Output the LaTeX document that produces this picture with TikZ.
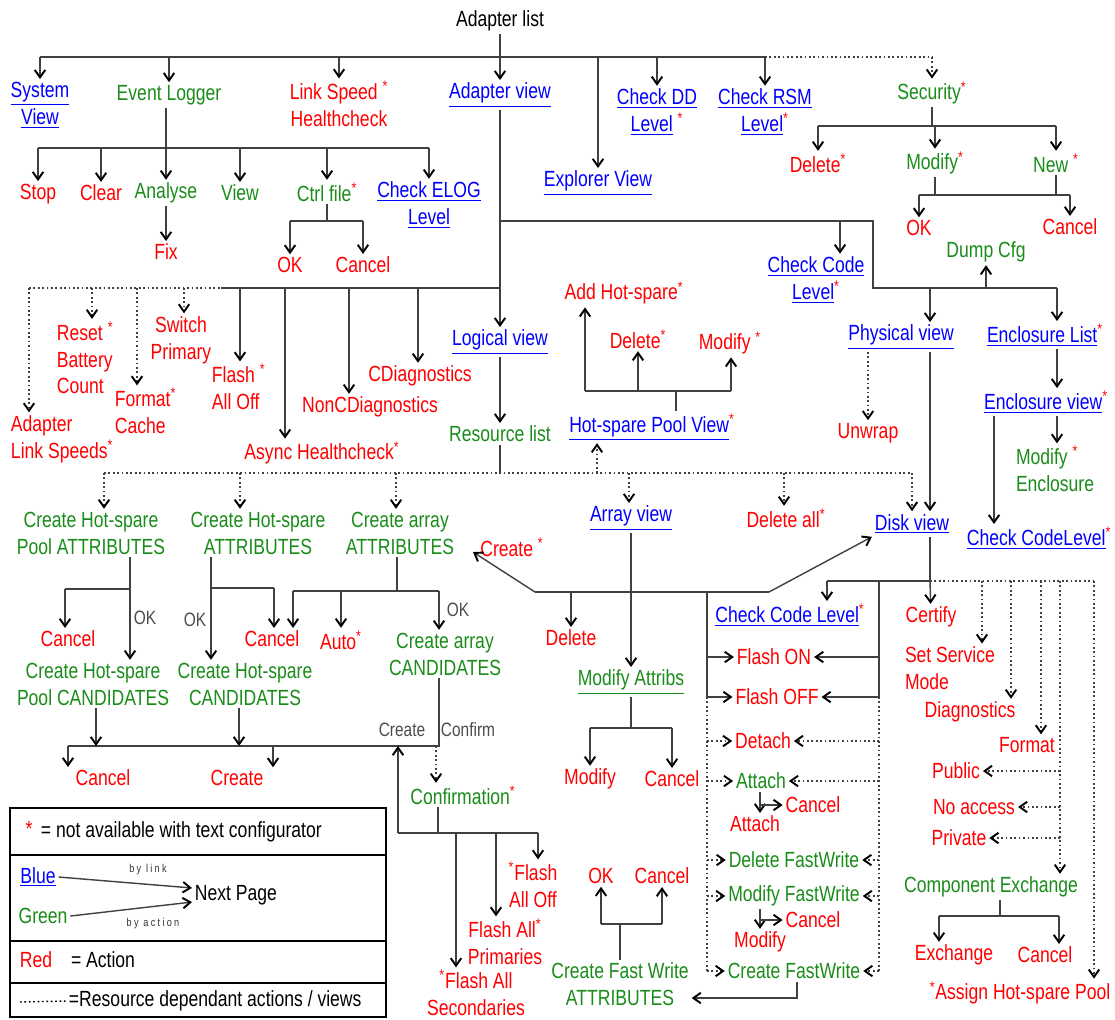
\documentclass[tikz,border=0pt]{standalone}
\usepackage{fontspec}
\setmainfont{Liberation Sans}[FakeStretch=0.8]
\usetikzlibrary{positioning,arrows.meta,calc}
\definecolor{colg}{rgb}{0.1,0.55,0.1}
\definecolor{colr}{rgb}{1.0,0.0,0.0}
\definecolor{colb}{rgb}{0.0,0.0,1.0}
\newcommand\dfont{\fontsize{12.5}{15.3}\selectfont}
\newcommand\lk[1]{\underline{#1}}
\newcommand\rst{\textsuperscript{\textcolor{colr}{*}}}
\tikzset{
  base/.style={inner sep=1.5pt, font=\dfont, align=center},
  rd/.style={base, text=colr},
  gr/.style={base, text=colg},
  bl/.style={base, text=colb},
  bk/.style={base, text=black},
  lab/.style={inner sep=1pt, font=\fontsize{11}{12}\selectfont, text=black!70},
  tny/.style={inner sep=1pt, font=\fontsize{6.5}{7}\selectfont\addfontfeature{LetterSpace=20}, text=black!80},
  ln/.style={draw=black!75, line width=0.8pt},
  ar/.style={ln, -{Straight Barb[length=1.5mm,width=2.1mm,line width=1.1pt,color=black]}},
  dt/.style={ln, dash pattern=on 1pt off 1.5pt},
  dar/.style={ar, dash pattern=on 1pt off 1.5pt},
}

\begin{document}
\begin{tikzpicture}[x=0.02cm, y=-0.02cm]
  \useasboundingbox (0,0) rectangle (1115,1019);

  % top row
  \node[bk] (alist) at (500,21) {Adapter list};
  \node[bl] (sysv) at (40,105) {\lk{System}\\\lk{View}};
  \node[gr] (elog) at (169,95) {Event Logger};
  \node[rd] (lspd) at (339,104) {Link Speed \rst\\Healthcheck};
  \node[bl] (aview) at (500,95) {\lk{Adapter view}};
  \node[bl] (expl) at (598,183) {\lk{Explorer View}};
  \node[bl] (chkdd) at (657,112) {\lk{Check DD}\\\lk{Level} \rst};
  \node[bl] (chkrsm) at (765,112) {\lk{Check RSM}\\\lk{Level}\rst};
  \node[gr] (secu) at (932,93) {Security\rst};

  % event logger
  \node[rd] (stop) at (38,194) {Stop};
  \node[rd] (clear) at (101,193) {Clear};
  \node[gr] (analyse) at (166,193) {Analyse};
  \node[gr] (viewel) at (240,193) {View};
  \node[gr] (ctrl) at (327,192) {Ctrl file\rst};
  \node[bl] (elogl) at (429,205) {\lk{Check ELOG}\\\lk{Level}};
  \node[rd] (fix) at (166,252) {Fix};
  \node[rd] (cok) at (290,265) {OK};
  \node[rd] (ccan) at (363,265) {Cancel};

  % security
  \node[rd] (sdel) at (818,163) {Delete\rst};
  \node[gr] (smod) at (935,163) {Modify\rst};
  \node[gr] (snew) at (1056,163) {New \rst};
  \node[rd] (sok) at (919,228) {OK};
  \node[rd] (scan) at (1070,227) {Cancel};
  \node[gr] (dump) at (986,252) {Dump Cfg};

  % adapter view, right side
  \node[bl] (ccl) at (816,280) {\lk{Check Code}\\\lk{Level}\rst};
  \node[bl] (phys) at (901,337) {\lk{Physical view}};
  \node[rd] (unwrap) at (868,433) {Unwrap};
  \node[bl] (encl) at (1045,335) {\lk{Enclosure List}\rst};
  \node[bl] (encv) at (1046,402) {\lk{Enclosure view}\rst};
  \node[gr, align=left, anchor=west] (modenc) at (1013,469) {Modify \rst\\Enclosure};
  \node[bl] (cclev) at (1039,538) {\lk{Check CodeLevel}\rst};
  \node[bl] (diskv) at (912,524) {\lk{Disk view}};

  % adapter view, left side
  \node[rd, align=left, anchor=west] (als) at (8,439) {Adapter\\Link Speeds\rst};
  \node[rd, align=left, anchor=west] (rbc) at (54,358) {Reset \rst\\Battery\\Count};
  \node[rd, align=left, anchor=west] (fmtc) at (112,411) {Format\rst\\Cache};
  \node[rd] (swp) at (181,340) {Switch\\Primary};
  \node[rd, align=left, anchor=west] (flo) at (209,387) {Flash \rst\\All Off};
  \node[rd] (async) at (322,453) {Async Healthcheck\rst};
  \node[rd] (ncd) at (370,407) {NonCDiagnostics};
  \node[rd] (cd) at (420,376) {CDiagnostics};

  % logical view
  \node[bl] (lview) at (500,342) {\lk{Logical view}};
  \node[gr] (rlist) at (500,434) {Resource list};
  \node[bl] (hpv) at (652,427) {\lk{Hot-spare Pool View}\rst};
  \node[rd] (addhs) at (624,293) {Add Hot-spare\rst};
  \node[rd] (hdel) at (638,339) {Delete\rst};
  \node[rd] (hmod) at (730,343) {Modify \rst};

  % resource list
  \node[gr] (chpa) at (91,533) {Create Hot-spare\\Pool ATTRIBUTES};
  \node[gr] (cha) at (258,533) {Create Hot-spare\\ATTRIBUTES};
  \node[gr] (caa) at (400,533) {Create array\\ATTRIBUTES};
  \node[bl] (arrv) at (631,518) {\lk{Array view}};
  \node[rd] (dall) at (786,518) {Delete all\rst};
  \node[rd] (crt) at (512,547) {Create \rst};
  \node[rd] (dele) at (571,638) {Delete};
  \node[gr] (mattr) at (631,682) {\lk{Modify Attribs}};
  \node[rd] (mmod) at (590,779) {Modify};
  \node[rd] (mcan) at (672,779) {Cancel};

  % disk view
  \node[bl] (dccl) at (790,615) {\lk{Check Code Level}\rst};
  \node[rd] (flon) at (774,657) {Flash ON};
  \node[rd] (floff) at (777,697) {Flash OFF};
  \node[rd] (detach) at (763,741) {Detach};
  \node[gr] (attach) at (761,781) {Attach};
  \node[rd] (atcan) at (813,805) {Cancel};
  \node[rd] (atatt) at (755,824) {Attach};
  \node[gr] (dfw) at (794,860) {Delete FastWrite};
  \node[gr] (mfw) at (794,896) {Modify FastWrite};
  \node[rd] (mfcan) at (813,920) {Cancel};
  \node[rd] (mfmod) at (760,942) {Modify};
  \node[gr] (cfw) at (794,971) {Create FastWrite};
  \node[gr] (cfwa) at (620,984) {Create Fast Write\\ATTRIBUTES};
  \node[rd] (fok) at (601,876) {OK};
  \node[rd] (fcan) at (662,876) {Cancel};
  \node[rd] (cert) at (931,617) {Certify};
  \node[rd, align=left, anchor=west] (ssm) at (902,668) {Set Service\\Mode};
  \node[rd] (diag) at (970,712) {Diagnostics};
  \node[rd] (fmt) at (1027,745) {Format};
  \node[rd] (pub) at (956,771) {Public};
  \node[rd] (noacc) at (974,807) {No access};
  \node[rd] (priv) at (959,838) {Private};
  \node[gr] (cex) at (991,887) {Component Exchange};
  \node[rd] (exch) at (954,955) {Exchange};
  \node[rd] (excan) at (1045,955) {Cancel};
  \node[rd] (ahp) at (1020,993) {\rst Assign Hot-spare Pool};

  % create array
  \node[rd] (can1) at (68,639) {Cancel};
  \node[gr] (chpc) at (93,684) {Create Hot-spare\\Pool CANDIDATES};
  \node[rd] (can2) at (272,639) {Cancel};
  \node[rd] (cauto) at (341,640) {Auto\rst};
  \node[gr] (chc) at (245,684) {Create Hot-spare\\CANDIDATES};
  \node[gr] (cac) at (445,654) {Create array\\CANDIDATES};
  \node[rd] (can3) at (103,778) {Cancel};
  \node[rd] (cre) at (237,778) {Create};
  \node[gr] (conf) at (463,795) {Confirmation\rst};
  \node[rd] (fao) at (533,885) {\rst Flash\\All Off};
  \node[rd] (fap) at (505,942) {Flash All\rst\\Primaries};
  \node[rd] (fas) at (476,993) {\rst Flash All\\Secondaries};
  \node[lab] (ok1) at (145,618) {OK};
  \node[lab] (ok2) at (195,620) {OK};
  \node[lab] (ok3) at (458,610) {OK};
  \node[lab] (lcre) at (402,730) {Create};
  \node[lab] (lcon) at (468,730) {Confirm};

  % top connectors
  \coordinate (tbus) at (40,57);
  \draw[ln] (tbus) -- (chkrsm |- tbus);
  \draw[dt] (chkrsm |- tbus) -- (secu |- tbus);
  \draw[ar] (alist) -- (aview);
  \foreach \nn in {sysv,elog,lspd,expl,chkdd,chkrsm} \draw[ar] (\nn |- tbus) -- (\nn);
  \draw[dar] (secu |- tbus) -- (secu);

  \coordinate (ebus) at (38,148);
  \draw[ln] (ebus) -- (elogl |- ebus);
  \foreach \nn in {stop,clear,viewel,ctrl,elogl} \draw[ar] (\nn |- ebus) -- (\nn);
  \draw[ar] (elog.south -| analyse) -- (analyse);
  \draw[ar] (analyse) -- (fix);
  \coordinate (cbus) at (290,221);
  \draw[ln] (ctrl) -- (ctrl |- cbus);
  \draw[ln] (cbus) -- (ccan |- cbus);
  \draw[ar] (cbus) -- (cok);
  \draw[ar] (ccan |- cbus) -- (ccan);

  \coordinate (sbus) at (0,126);
  \draw[ln] (secu) -- (secu |- sbus);
  \draw[ln] (sdel |- sbus) -- (snew |- sbus);
  \foreach \nn in {sdel,smod,snew} \draw[ar] (\nn |- sbus) -- (\nn);
  \coordinate (mbus) at (0,195);
  \draw[ln] (smod) -- (smod |- mbus);
  \draw[ln] (snew) -- (snew |- mbus);
  \draw[ln] (sok |- mbus) -- (scan |- mbus);
  \draw[ar] (sok |- mbus) -- (sok);
  \draw[ar] (scan |- mbus) -- (scan);

  % adapter view right
  \coordinate (rk1) at (873,221);
  \coordinate (rk2) at (873,288);
  \coordinate (enx) at (1057,288);
  \draw[ln] (aview |- rk1) -- (rk1) -- (rk2) -- (enx);
  \coordinate (cclx) at (840,221);
  \draw[ar] (cclx) -- (cclx |- ccl.north);
  \draw[ar] (dump |- rk2) -- (dump);
  \coordinate (phx) at (930,288);
  \draw[ar] (phx) -- (phx |- phys.north);
  \draw[ar] (phys.south -| phx) -- (phx |- diskv.north);
  \draw[dar] (phys.south -| unwrap) -- (unwrap);
  \draw[ar] (enx) -- (enx |- encl.north);
  \draw[ar] (encl.south -| enx) -- (enx |- encv.north);
  \draw[ar] (encv.south -| enx) -- (enx |- modenc.north);
  \coordinate (ecx) at (994,420);
  \draw[ar] (encv.south -| ecx) -- (ecx |- cclev.north);

  % adapter view left
  \coordinate (lb) at (221,288);
  \coordinate (alx) at (29,288);
  \coordinate (rbx) at (92,288);
  \coordinate (fcx) at (137,288);
  \coordinate (swx) at (184,288);
  \coordinate (flx) at (240,288);
  \coordinate (asx) at (285,288);
  \coordinate (ncx) at (349,288);
  \coordinate (cdx) at (418,288);
  \draw[ln] (lb) -- (aview |- lb);
  \draw[dt] (alx) -- (lb);
  \foreach \pp/\nn in {alx/als,rbx/rbc,fcx/fmtc,swx/swp} \draw[dar] (\pp) -- (\pp |- \nn.north);
  \foreach \pp/\nn in {flx/flo,asx/async,ncx/ncd,cdx/cd} \draw[ar] (\pp) -- (\pp |- \nn.north);
  \draw[ar] (aview) -- (lview);

  % logical view
  \draw[ar] (lview) -- (rlist);
  \coordinate (rb) at (500,473);
  \draw[ln] (rlist) -- (rb);
  \coordinate (r1x) at (104,473);
  \coordinate (r2x) at (240,473);
  \coordinate (r3x) at (396,473);
  \coordinate (r4x) at (597,473);
  \coordinate (r5x) at (629,473);
  \coordinate (r6x) at (784,473);
  \coordinate (r7x) at (912,473);
  \draw[dt] (r1x) -- (r7x);
  \foreach \pp/\nn in {r1x/chpa,r2x/cha,r3x/caa,r5x/arrv,r6x/dall,r7x/diskv} \draw[dar] (\pp) -- (\pp |- \nn.north);
  \draw[dar] (r4x) -- (r4x |- hpv.south);

  \coordinate (hb) at (676,391);
  \coordinate (hbl) at (585,391);
  \coordinate (hbr) at (731,391);
  \draw[ln] (hpv.north -| hb) -- (hb);
  \draw[ln] (hbl) -- (hbr);
  \draw[ar] (hbl) -- (hbl |- addhs.south);
  \draw[ar] (hdel |- hb) -- (hdel);
  \draw[ar] (hbr) -- (hbr |- hmod.south);

  % array view
  \coordinate (ab1) at (535,592);
  \coordinate (ab2) at (769,592);
  \coordinate (crtip) at (473,552);
  \draw[ln] (ab1) -- (ab2);
  \draw[ar] (ab1) -- (crtip);
  \draw[ar] (ab2) -- (diskv.south west);
  \draw[ar] (dele |- ab1) -- (dele);
  \draw[ar] (arrv) -- (mattr);
  \coordinate (mb) at (0,728);
  \draw[ln] (mattr) -- (mattr |- mb);
  \draw[ln] (mmod |- mb) -- (mcan |- mb);
  \draw[ar] (mmod |- mb) -- (mmod);
  \draw[ar] (mcan |- mb) -- (mcan);

  % disk view
  \coordinate (db) at (930,581);
  \coordinate (dcx) at (827,581);
  \coordinate (dbr) at (1094,581);
  \draw[ln] (diskv.south -| db) -- (db) -- (dcx);
  \draw[ar] (dcx) -- (dcx |- dccl.north);
  \draw[ar] (db) -- (cert);
  \draw[dt] (db) -- (dbr);
  \coordinate (brl) at (707,592);
  \coordinate (brr) at (879,581);
  \draw[ln] (brl) -- (brl |- floff);
  \draw[ln] (brr) -- (brr |- floff);
  \draw[dt] (brl |- floff) -- (brl |- cfw);
  \draw[dt] (brr |- floff) -- (brr |- cfw);
  \foreach \nn in {flon,floff} {
    \draw[ar] (brl |- \nn) -- (\nn);
    \draw[ar] (brr |- \nn) -- (\nn);
  }
  \foreach \nn in {detach,attach,dfw,mfw,cfw} {
    \draw[dar] (brl |- \nn) -- (\nn);
    \draw[dar] (brr |- \nn) -- (\nn);
  }
  \coordinate (atk) at (760,805);
  \draw[ar] (attach.south -| atk) -- (atk |- atatt.north);
  \draw[ar] (atk) -- (atcan);
  \coordinate (mfk) at (760,920);
  \draw[ar] (mfw.south -| mfk) -- (mfk |- mfmod.north);
  \draw[ar] (mfk) -- (mfcan);
  \coordinate (cfk) at (797,998);
  \draw[ar] (cfw.south -| cfk) -- (cfk) -- (cfwa.east |- cfk);
  \coordinate (fb) at (620,924);
  \draw[ln] (cfwa) -- (fb);
  \draw[ln] (fok |- fb) -- (fcan |- fb);
  \draw[ar] (fok |- fb) -- (fok);
  \draw[ar] (fcan |- fb) -- (fcan);

  \coordinate (d1x) at (982,581);
  \coordinate (d2x) at (1011,581);
  \coordinate (d3x) at (1041,581);
  \coordinate (d4x) at (1060,581);
  \foreach \pp/\nn in {d1x/ssm,d2x/diag,d3x/fmt,d4x/cex,dbr/ahp} \draw[dar] (\pp) -- (\pp |- \nn.north);
  \foreach \nn in {pub,noacc,priv} \draw[dar] (d4x |- \nn) -- (\nn);
  \coordinate (xb) at (1000,916);
  \coordinate (xl) at (939,916);
  \coordinate (xr) at (1059,916);
  \draw[ln] (cex.south -| xb) -- (xb);
  \draw[ln] (xl) -- (xr);
  \draw[ar] (xl) -- (xl |- exch.north);
  \draw[ar] (xr) -- (xr |- excan.north);

  % create array subtree
  \coordinate (k1) at (130,589);
  \coordinate (k1l) at (65,589);
  \draw[ar] (chpa.south -| k1) -- (k1 |- chpc.north);
  \draw[ln] (k1) -- (k1l);
  \draw[ar] (k1l) -- (k1l |- can1.north);
  \coordinate (k2) at (211,588);
  \coordinate (k2r) at (274,588);
  \draw[ar] (cha.south -| k2) -- (k2 |- chc.north);
  \draw[ln] (k2) -- (k2r);
  \draw[ar] (k2r) -- (k2r |- can2.north);
  \coordinate (k3) at (397,591);
  \coordinate (k3l) at (293,591);
  \coordinate (k3r) at (439,591);
  \draw[ln] (caa.south -| k3) -- (k3);
  \draw[ln] (k3l) -- (k3r);
  \draw[ar] (k3l) -- (k3l |- can2.north);
  \draw[ar] (cauto |- k3) -- (cauto);
  \draw[ar] (k3r) -- (k3r |- cac.north);

  \coordinate (cb) at (439,746);
  \coordinate (cbl) at (68,746);
  \coordinate (cbc) at (273,746);
  \coordinate (p1) at (96,746);
  \coordinate (p2) at (239,746);
  \coordinate (cfx) at (436,746);
  \draw[ln] (cac.south -| cb) -- (cb) -- (cbl);
  \draw[ar] (cbl) -- (cbl |- can3.north);
  \draw[ar] (cbc) -- (cbc |- cre.north);
  \draw[ar] (chpc.south -| p1) -- (p1);
  \draw[ar] (chc.south -| p2) -- (p2);
  \draw[dar] (cfx) -- (cfx |- conf.north);

  \coordinate (q0) at (438,833);
  \coordinate (ql) at (398,833);
  \coordinate (qr) at (538,833);
  \coordinate (q2) at (496,833);
  \coordinate (q3) at (456,833);
  \draw[ln] (conf.south -| q0) -- (q0);
  \draw[ln] (ql) -- (qr);
  \draw[ar] (ql) -- (ql |- cb);
  \draw[ar] (qr) -- (qr |- fao.north);
  \draw[ar] (q2) -- (q2 |- fap.north);
  \draw[ar] (q3) -- (q3 |- fas.north);

  % legend
  \draw[ln, draw=black] (10,808) rectangle (386,1017);
  \foreach \yy in {855,941,983} \draw[ln, draw=black] (10,\yy) -- (386,\yy);
  \node[rd] (lstar) at (29,829) {*};
  \node[bk, anchor=west] (lnot) at (38,832) {= not available with text configurator};
  \node[bl] (lblue) at (38,877) {\lk{Blue}};
  \node[gr] (lgreen) at (43,916) {Green};
  \node[bk] (lnext) at (236,895) {Next Page};
  \draw[ar] (lblue.east) -- ([yshift=4pt]lnext.west);
  \draw[ar] (lgreen.east) -- ([yshift=-4pt]lnext.west);
  \node[tny] (llink) at (148,870) {by link};
  \node[tny] (lact2) at (153,924) {by action};
  \node[rd] (lred) at (36,960) {Red};
  \node[bk] (lact) at (103,960) {= Action};
  \node[bk, anchor=west] (lres) at (66,1001) {=Resource dependant actions / views};
  \coordinate (ldl) at (20,1002);
  \draw[dt, draw=black] (ldl) -- (lres.west);
\end{tikzpicture}
\end{document}
